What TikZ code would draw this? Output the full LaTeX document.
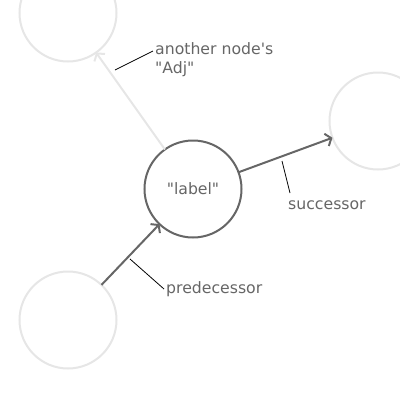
\documentclass[tikz,border=0pt]{standalone}
\usepackage{fontspec}
\setmainfont{DejaVu Sans}[Ligatures=TeXOff]
\usetikzlibrary{arrows.meta}
\definecolor{dk}{HTML}{666666}
\definecolor{lt}{HTML}{E6E6E6}
\tikzset{
  vtx/.style={circle, minimum size=97pt, inner sep=0pt, outer sep=0pt, line width=2pt, fill=white},
  darkv/.style={vtx, draw=dk},
  lightv/.style={vtx, draw=lt},
  edgearrow/.style={line width=2pt, -{Straight Barb[length=5pt,width=13pt,line width=2pt]}},
  leader/.style={line width=0.8pt, black},
  lbl/.style={text=dk, font=\fontsize{15.7}{19}\selectfont, inner sep=0pt, anchor=base west}
}
\begin{document}
\begin{tikzpicture}[x=1pt,y=-1pt]
\useasboundingbox (0,0) rectangle (400,400);
\node[lightv] (adj) at (68,13) {};
\node[lightv] (succ) at (378,121) {};
\node[lightv] (pred) at (68,320) {};
\node[darkv, text=dk, font=\fontsize{15.7}{19}\selectfont] (cur) at (193,189) {"label"};
\draw[edgearrow, draw=lt] (cur) -- (adj);
\draw[edgearrow, draw=dk] (cur) -- (succ);
\draw[edgearrow, draw=dk] (pred) -- (cur);
\node[lbl, align=left] (tadj) at (155,73.5) {another node's\\"Adj"};
\node[lbl] (tsucc) at (288,209) {successor};
\node[lbl] (tpred) at (166,293) {predecessor};
\coordinate (a1) at (115,70);
\coordinate (a2) at (153,51);
\coordinate (s1) at (282,161);
\coordinate (s2) at (290,193);
\coordinate (p1) at (130,259);
\coordinate (p2) at (164,289);
\draw[leader] (a1) -- (a2);
\draw[leader] (s1) -- (s2);
\draw[leader] (p1) -- (p2);
\end{tikzpicture}
\end{document}
